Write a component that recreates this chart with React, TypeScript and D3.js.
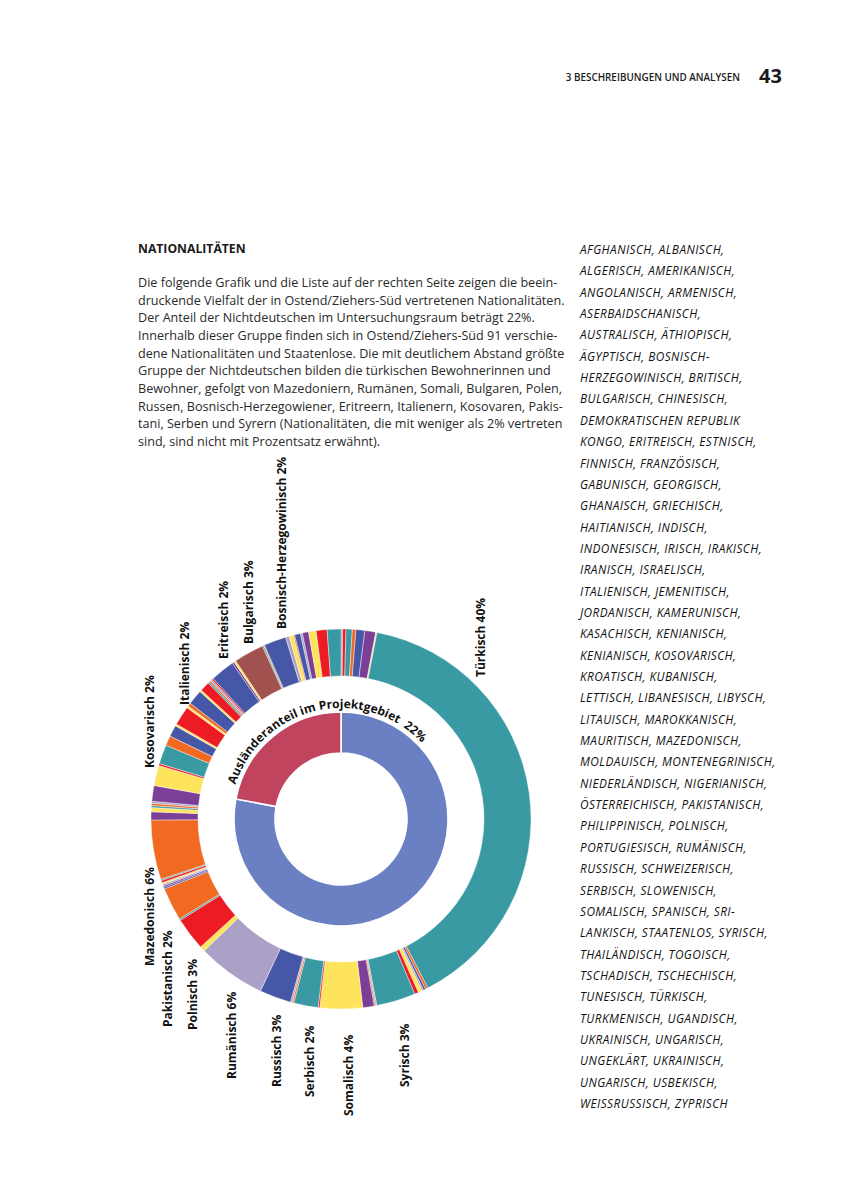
import React from "react";
import * as d3 from "d3";

// ---------- DATA ----------
const C = {
  teal: "#3a9aa4",
  red: "#ed1c24",
  yellow: "#fde45c",
  purple: "#7c3f98",
  blue: "#4557a6",
  lilac: "#aba0c6",
  orange: "#f26922",
  brown: "#a1524f",
};

// outer ring, clockwise from 12 o'clock (share of non-German residents, %)
const sliceNames = [
  "Zyprisch", "Weissrussisch", "Usbekisch", "Ungeklärt", "Ungarisch", "Ukrainisch", "Ugandisch",
  "Türkisch", "Tunesisch", "Tschechisch", "Tschadisch", "Togoisch", "Thailändisch", "Syrisch",
  "Staatenlos", "Sri-Lankisch", "Spanisch", "Somalisch", "Slowenisch", "Serbisch", "Schweizerisch",
  "Sonstige 1", "Russisch", "Rumänisch", "Portugiesisch", "Polnisch", "Philippinisch", "Pakistanisch",
  "Österreichisch", "Nigerianisch", "Niederländisch", "Montenegrinisch", "Moldauisch", "Sonstige 2",
  "Mazedonisch", "Mauritisch", "Marokkanisch", "Litauisch", "Libysch", "Lettisch", "Kroatisch",
  "Kosovarisch", "Kenianisch", "Kasachisch", "Kamerunisch", "Jordanisch", "Jemenitisch", "Italienisch",
  "Israelisch", "Iranisch", "Irakisch", "Irisch", "Indisch", "Griechisch", "Georgisch", "Französisch",
  "Estnisch", "Eritreisch", "Kongo (DR)", "Chinesisch", "Bulgarisch", "Britisch", "Sonstige 3",
  "Bosnisch-Herzegowinisch", "Ägyptisch", "Äthiopisch", "Australisch", "Aserbaidschanisch", "Armenisch",
  "Angolanisch", "Amerikanisch", "Algerisch", "Afghanisch",
];
const sliceValues = [
  0.14, 0.28, 0.53, 0.31, 0.75, 0.92, 0.11,
  39.42, 0.22, 0.19, 0.14, 0.33, 0.33, 3.33,
  0.11, 0.11, 0.97, 3.61, 0.14, 2.08, 0.14,
  0.14, 2.69, 5.83, 0.44, 2.81, 0.14, 2.81,
  0.14, 0.14, 0.14, 0.14, 0.19, 0.11,
  5.06, 0.69, 0.36, 0.17, 0.19, 0.17, 1.33,
  1.72, 0.17, 1.64, 0.83, 0.97, 0.17, 1.64,
  0.17, 0.28, 1.28, 0.17, 0.83, 0.14, 0.14, 0.14,
  0.14, 2.06, 0.17, 0.17, 2.56, 0.11, 0.08,
  1.89, 0.31, 0.36, 0.11, 0.5, 0.17,
  0.53, 0.64, 0.92, 1.17,
];
const sliceColors = [
  C.lilac, C.red, C.teal, C.orange, C.blue, C.purple, C.yellow,
  C.teal, C.orange, C.blue, C.lilac, C.yellow, C.red, C.teal,
  C.lilac, C.orange, C.purple, C.yellow, C.red, C.teal, C.orange,
  C.lilac, C.blue, C.lilac, C.yellow, C.red, C.teal, C.orange,
  C.blue, C.purple, C.lilac, C.yellow, C.red, C.teal,
  C.orange, C.purple, C.yellow, C.teal, C.orange, C.lilac, C.purple,
  C.yellow, C.red, C.teal, C.orange, C.blue, C.yellow, C.red,
  C.yellow, C.orange, C.blue, C.yellow, C.red, C.teal, C.orange, C.lilac,
  C.red, C.blue, C.purple, C.yellow, C.brown, C.teal, C.orange,
  C.blue, C.lilac, C.yellow, C.orange, C.blue, C.lilac,
  C.purple, C.yellow, C.red, C.teal,
];

// inner ring: population of the project area
const innerNames = ["Deutsche", "Ausländeranteil"];
const innerValues = [78, 22];
const innerColors = ["#6b80c2", "#c1445f"];

// labelled nationalities (share as printed)
const labelNames = [
  "Türkisch", "Bosnisch-Herzegowinisch", "Bulgarisch", "Eritreisch", "Italienisch", "Kosovarisch",
  "Mazedonisch", "Pakistanisch", "Polnisch", "Rumänisch", "Russisch", "Serbisch", "Somalisch", "Syrisch",
];
const labelPercents = [40, 2, 3, 2, 2, 2, 6, 2, 3, 6, 3, 2, 4, 3];

const bodyLines = [
  "Die folgende Grafik und die Liste auf der rechten Seite zeigen die beein-",
  "druckende Vielfalt der in Ostend/Ziehers-Süd vertretenen Nationalitäten.",
  "Der Anteil der Nichtdeutschen im Untersuchungsraum beträgt 22%.",
  "Innerhalb dieser Gruppe finden sich in Ostend/Ziehers-Süd 91 verschie-",
  "dene Nationalitäten und Staatenlose. Die mit deutlichem Abstand größte",
  "Gruppe der Nichtdeutschen bilden die türkischen Bewohnerinnen und",
  "Bewohner, gefolgt von Mazedoniern, Rumänen, Somali, Bulgaren, Polen,",
  "Russen, Bosnisch-Herzegowiener, Eritreern, Italienern, Kosovaren, Pakis-",
  "tani, Serben und Syrern (Nationalitäten, die mit weniger als 2% vertreten",
  "sind, sind nicht mit Prozentsatz erwähnt).",
];

const listLines = [
  "AFGHANISCH, ALBANISCH,",
  "ALGERISCH, AMERIKANISCH,",
  "ANGOLANISCH, ARMENISCH,",
  "ASERBAIDSCHANISCH,",
  "AUSTRALISCH, ÄTHIOPISCH,",
  "ÄGYPTISCH, BOSNISCH-",
  "HERZEGOWINISCH, BRITISCH,",
  "BULGARISCH, CHINESISCH,",
  "DEMOKRATISCHEN REPUBLIK",
  "KONGO, ERITREISCH, ESTNISCH,",
  "FINNISCH, FRANZÖSISCH,",
  "GABUNISCH, GEORGISCH,",
  "GHANAISCH, GRIECHISCH,",
  "HAITIANISCH, INDISCH,",
  "INDONESISCH, IRISCH, IRAKISCH,",
  "IRANISCH, ISRAELISCH,",
  "ITALIENISCH, JEMENITISCH,",
  "JORDANISCH, KAMERUNISCH,",
  "KASACHISCH, KENIANISCH,",
  "KENIANISCH, KOSOVARISCH,",
  "KROATISCH, KUBANISCH,",
  "LETTISCH, LIBANESISCH, LIBYSCH,",
  "LITAUISCH, MAROKKANISCH,",
  "MAURITISCH, MAZEDONISCH,",
  "MOLDAUISCH, MONTENEGRINISCH,",
  "NIEDERLÄNDISCH, NIGERIANISCH,",
  "ÖSTERREICHISCH, PAKISTANISCH,",
  "PHILIPPINISCH, POLNISCH,",
  "PORTUGIESISCH, RUMÄNISCH,",
  "RUSSISCH, SCHWEIZERISCH,",
  "SERBISCH, SLOWENISCH,",
  "SOMALISCH, SPANISCH, SRI-",
  "LANKISCH, STAATENLOS, SYRISCH,",
  "THAILÄNDISCH, TOGOISCH,",
  "TSCHADISCH, TSCHECHISCH,",
  "TUNESISCH, TÜRKISCH,",
  "TURKMENISCH, UGANDISCH,",
  "UKRAINISCH, UNGARISCH,",
  "UNGEKLÄRT, UKRAINISCH,",
  "UNGARISCH, USBEKISCH,",
  "WEISSRUSSISCH, ZYPRISCH",
];

const innerTitle = "Ausländeranteil im Projektgebiet  22%";

// ---------- LAYOUT ----------
const W = 849;
const H = 1200;
const cx = 341;
const cy = 819;
const outerR0 = 143;
const outerR1 = 190;
const innerR0 = 66;
const innerR1 = 107;
const titleR = 111;
const titleStartDeg = -72;

// label anchors (start of rotated text = bottom end), baseline x
const labelAnchors: Record<string, [number, number]> = {
  "Türkisch": [485, 677],
  "Bosnisch-Herzegowinisch": [286, 629],
  "Bulgarisch": [252.5, 644],
  "Eritreisch": [228, 659],
  "Italienisch": [189, 705],
  "Kosovarisch": [153.5, 768],
  "Mazedonisch": [153.5, 966],
  "Pakistanisch": [172, 1027],
  "Polnisch": [197, 1030],
  "Rumänisch": [235.5, 1079],
  "Russisch": [280.5, 1087],
  "Serbisch": [314, 1097],
  "Somalisch": [353, 1116],
  "Syrisch": [409, 1087],
};

const FONT = "'Open Sans', 'DejaVu Sans', sans-serif";

export default function App() {
  const outerData = sliceNames.map((n, i) => ({ name: n, value: sliceValues[i], color: sliceColors[i] }));
  const innerData = innerNames.map((n, i) => ({ name: n, value: innerValues[i], color: innerColors[i] }));

  const pie = d3
    .pie<{ name: string; value: number; color: string }>()
    .sort(null)
    .value((d) => d.value)
    .startAngle(0)
    .endAngle(2 * Math.PI);

  const outerArc = d3.arc<any>().innerRadius(outerR0).outerRadius(outerR1);
  const innerArc = d3.arc<any>().innerRadius(innerR0).outerRadius(innerR1);

  const outerArcs = pie(outerData);
  const innerArcs = pie(innerData);

  const a0 = (titleStartDeg * Math.PI) / 180;
  const a1 = a0 + (160 * Math.PI) / 180;
  const p = d3.path();
  p.arc(0, 0, titleR, a0 - Math.PI / 2, a1 - Math.PI / 2, false);
  const titlePath = p.toString();

  return (
    <svg
      width={W}
      height={H}
      viewBox={`0 0 ${W} ${H}`}
      style={{ position: "absolute", left: 0, top: 0, background: "#fff" }}
    >
      {/* page header */}
      <text x={740} y={81} textAnchor="end" fontFamily={FONT} fontSize={9.9} fontWeight={600} fill="#1a1a1a">
        3 BESCHREIBUNGEN UND ANALYSEN
      </text>
      <text x={759} y={83} fontFamily={FONT} fontSize={20} fontWeight={700} fill="#1a1a1a">
        43
      </text>

      {/* heading + body */}
      <text x={138} y={253} fontFamily={FONT} fontSize={12.2} fontWeight={700} fill="#1a1a1a">
        NATIONALITÄTEN
      </text>
      {bodyLines.map((l, i) => (
        <text key={i} x={138} y={287 + i * 17.67} fontFamily={FONT} fontSize={12.6} fill="#2a2a2a">
          {l}
        </text>
      ))}

      {/* right list */}
      {listLines.map((l, i) => (
        <text
          key={i}
          x={580}
          y={254 + i * 21.35}
          fontFamily={FONT}
          fontSize={11.8}
          fontStyle="italic"
          letterSpacing={0.45}
          fill="#111"
        >
          {l}
        </text>
      ))}

      {/* donut */}
      <g transform={`translate(${cx},${cy})`}>
        {outerArcs.map((a, i) => (
          <path key={i} d={outerArc(a) as string} fill={a.data.color} stroke="#fff" strokeWidth={0.4} />
        ))}
        {innerArcs.map((a, i) => (
          <path key={i} d={innerArc(a) as string} fill={a.data.color} stroke="#fff" strokeWidth={1.6} />
        ))}
        <path id="titleArc" d={titlePath} fill="none" stroke="none" />
        <text fontFamily={FONT} fontSize={12} fontWeight={700} fill="#111" style={{ whiteSpace: "pre" }}>
          <textPath href="#titleArc" startOffset={0}>
            {innerTitle}
          </textPath>
        </text>
      </g>

      {/* rotated labels */}
      {labelNames.map((n, i) => {
        const [x, y] = labelAnchors[n];
        return (
          <text
            key={n}
            transform={`translate(${x},${y}) rotate(-90)`}
            fontFamily={FONT}
            fontSize={12}
            fontWeight={700}
            fill="#111"
          >
            {`${n} ${labelPercents[i]}%`}
          </text>
        );
      })}
    </svg>
  );
}
